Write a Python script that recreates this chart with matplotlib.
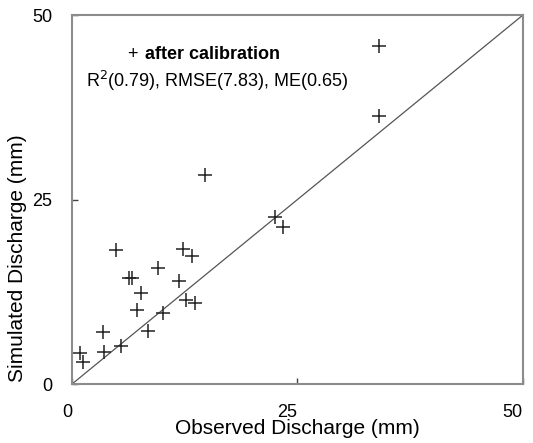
import matplotlib
matplotlib.use("Agg")
import matplotlib.pyplot as plt

plt.rcParams['font.family'] = ['Liberation Sans', 'DejaVu Sans']

# observed vs simulated discharge (mm)
observed = [34.0, 34.0, 14.75, 4.84, 12.27, 13.27, 9.5, 6.35, 6.62, 11.83,
            7.62, 12.64, 13.64, 7.17, 10.06, 8.46, 3.40, 3.55, 5.43, 0.89,
            1.19, 22.5, 23.4]
simulated = [45.8, 36.3, 28.3, 18.2, 18.3, 17.3, 15.7, 14.4, 14.4, 14.0,
             12.4, 11.4, 11.0, 10.0, 9.6, 7.2, 7.0, 4.4, 5.15, 4.16,
             3.0, 22.7, 21.3]
ticks = [0, 25, 50]
tick_labels = ['0', '25', '50']
one_to_one = [0, 50]

fig = plt.figure(figsize=(5.33, 4.43), dpi=100)
ax = fig.add_axes([0.135, 0.133, 0.846, 0.833])

ax.plot(one_to_one, one_to_one, color='#555555', linewidth=0.9)
ax.plot(observed, simulated, linestyle='none', marker='+', markersize=10,
        markeredgewidth=1.1, color='#222222')

ax.set_xlim(0, 50)
ax.set_ylim(0, 50)
ax.set_xticks(ticks)
ax.set_xticklabels(tick_labels, ha='right')
ax.set_yticks(ticks)
ax.set_yticklabels(tick_labels)
ax.tick_params(direction='in', length=4, width=1, color='#444444',
               labelsize=13)
ax.tick_params(axis='x', pad=14)
ax.tick_params(axis='y', pad=14)
for s in ax.spines.values():
    s.set_color('#8c8c8c')
    s.set_linewidth(1.5)

ax.set_xlabel('Observed Discharge (mm)', fontsize=15, labelpad=-1)
ax.set_ylabel('Simulated Discharge (mm)', fontsize=15)
ax.yaxis.set_label_coords(-0.10, 0.34)

ax.text(0.135, 0.892, '+', transform=ax.transAxes, fontsize=13,
        va='center', ha='center')
ax.text(0.162, 0.892, 'after calibration', transform=ax.transAxes,
        fontsize=13, fontweight='bold', va='center', ha='left')
ax.text(0.031, 0.821, r'R$^2$(0.79), RMSE(7.83), ME(0.65)',
        transform=ax.transAxes, fontsize=13, va='center', ha='left')

fig.savefig('out.png', dpi=100)
